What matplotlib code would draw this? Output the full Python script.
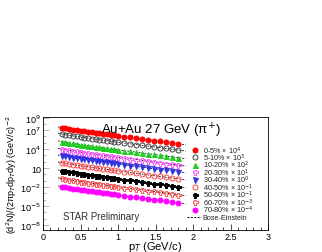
import numpy as np
import matplotlib
matplotlib.use("Agg")
import matplotlib.pyplot as plt
from matplotlib.ticker import FixedLocator, NullFormatter
from matplotlib.lines import Line2D

plt.rcParams['font.family'] = ['Liberation Sans', 'DejaVu Sans']

# pT bins (GeV/c)
pt = [0.25, 0.30, 0.35, 0.40, 0.45, 0.50, 0.55, 0.60, 0.65, 0.70, 0.75, 0.80, 0.85,
      0.90, 0.95, 1.00, 1.08, 1.16, 1.24, 1.32, 1.40, 1.48, 1.56, 1.64, 1.72, 1.80]

# log10 of scaled yields
y_0_5 = [7.40, 7.30, 7.20, 7.10, 7.01, 6.92, 6.83, 6.75, 6.66, 6.58, 6.50, 6.42, 6.34,
         6.26, 6.18, 6.10, 5.97, 5.85, 5.72, 5.60, 5.47, 5.35, 5.22, 5.10, 4.98, 4.85]
y_5_10 = [6.40, 6.30, 6.20, 6.10, 6.01, 5.92, 5.83, 5.75, 5.66, 5.58, 5.50, 5.42, 5.34,
          5.26, 5.18, 5.10, 4.97, 4.85, 4.72, 4.60, 4.47, 4.35, 4.22, 4.10, 3.98, 3.85]
y_10_20 = [5.20, 5.10, 5.00, 4.90, 4.81, 4.72, 4.63, 4.55, 4.46, 4.38, 4.30, 4.22, 4.14,
           4.06, 3.98, 3.90, 3.77, 3.65, 3.52, 3.40, 3.27, 3.15, 3.02, 2.90, 2.78, 2.65]
y_20_30 = [4.02, 3.92, 3.82, 3.72, 3.63, 3.54, 3.45, 3.37, 3.28, 3.20, 3.12, 3.04, 2.96,
           2.88, 2.80, 2.72, 2.59, 2.47, 2.34, 2.22, 2.09, 1.97, 1.84, 1.72, 1.60, 1.47]
y_30_40 = [2.95, 2.85, 2.75, 2.65, 2.56, 2.47, 2.38, 2.30, 2.21, 2.13, 2.05, 1.97, 1.89,
           1.81, 1.73, 1.65, 1.52, 1.40, 1.27, 1.15, 1.02, 0.90, 0.77, 0.65, 0.53, 0.40]
y_40_50 = [1.85, 1.75, 1.65, 1.55, 1.46, 1.37, 1.28, 1.20, 1.11, 1.03, 0.95, 0.87, 0.79,
           0.71, 0.63, 0.55, 0.42, 0.30, 0.17, 0.05, -0.08, -0.20, -0.33, -0.45, -0.57, -0.70]
y_50_60 = [0.60, 0.50, 0.40, 0.30, 0.21, 0.12, 0.03, -0.05, -0.14, -0.22, -0.30, -0.38, -0.46,
           -0.54, -0.62, -0.70, -0.83, -0.95, -1.08, -1.20, -1.33, -1.45, -1.58, -1.70, -1.82, -1.95]
y_60_70 = [-0.65, -0.75, -0.85, -0.95, -1.04, -1.13, -1.22, -1.30, -1.39, -1.47, -1.55, -1.63, -1.71,
           -1.79, -1.87, -1.95, -2.08, -2.20, -2.33, -2.45, -2.58, -2.70, -2.83, -2.95, -3.07, -3.20]
y_70_80 = [-1.95, -2.05, -2.15, -2.25, -2.34, -2.43, -2.52, -2.60, -2.69, -2.77, -2.85, -2.93, -3.01,
           -3.09, -3.17, -3.25, -3.38, -3.50, -3.63, -3.75, -3.88, -4.00, -4.13, -4.25, -4.37, -4.50]

# Bose-Einstein fit curves extend a bit beyond the data
fit_pt_lo, fit_pt_hi = 0.2, 1.9
fit_lo = [7.51, 6.51, 5.31, 4.13, 3.06, 1.96, 0.71, -0.54, -1.84]
fit_hi = [4.70, 3.70, 2.50, 1.32, 0.25, -0.85, -2.10, -3.35, -4.65]

labels = ["0-5% \u00d7 10$^{4}$", "5-10% \u00d7 10$^{3}$", "10-20% \u00d7 10$^{2}$",
          "20-30% \u00d7 10$^{1}$", "30-40% \u00d7 10$^{0}$", "40-50% \u00d7 10$^{-1}$",
          "50-60% \u00d7 10$^{-1}$", "60-70% \u00d7 10$^{-3}$", "70-80% \u00d7 10$^{-4}$"]

series = [y_0_5, y_5_10, y_10_20, y_20_30, y_30_40, y_40_50, y_50_60, y_60_70, y_70_80]
styles = [("o", "#ff0000", True), ("o", "#444444", False), ("^", "#22cc22", True),
          ("P", "#ff55ff", False), ("v", "#3333dd", True), ("o", "#ff4444", False),
          ("P", "#000000", True), ("P", "#ff5555", False), ("o", "#ff00ff", True)]

fig = plt.figure(figsize=(3.22, 2.53), dpi=100)
ax = fig.add_axes([0.1335, 0.087, 0.699, 0.447])

for ys, (m, c, filled), lo, hi in zip(series, styles, fit_lo, fit_hi):
    xs_fit = [fit_pt_lo] + pt + [fit_pt_hi]
    ys_fit = [lo] + ys + [hi]
    ax.plot(xs_fit, np.power(10.0, ys_fit), ls=(0, (2, 1.5)), color="black", lw=0.6, zorder=1)
    ax.plot(pt, np.power(10.0, ys), ls="none", marker=m, ms=3.6,
            mfc=c if filled else "none", mec=c, mew=0.7, zorder=2)

ax.set_yscale("log")
ax.set_xlim(0, 3)
ax.set_ylim(10 ** -8.8, 10 ** 9.1)

ax.set_xticks([0, 0.5, 1, 1.5, 2, 2.5, 3])
ax.set_xticklabels(["0", "0.5", "1", "1.5", "2", "2.5", "3"])
ax.set_xticks(np.arange(0, 3.01, 0.1), minor=True)
ytick_pos = [1e-8, 1e-5, 1e-2, 1e1, 1e4, 1e7, 1e9]
ax.yaxis.set_major_locator(FixedLocator(ytick_pos))
ax.set_yticklabels(["10$^{-8}$", "10$^{-5}$", "10$^{-2}$", "10", "10$^{4}$", "10$^{7}$", "10$^{9}$"])
ax.yaxis.set_minor_locator(FixedLocator([10.0 ** k for k in range(-8, 10)]))
ax.yaxis.set_minor_formatter(NullFormatter())
ax.tick_params(which="both", direction="in", labelsize=6.5, top=False, right=False, width=0.5)
ax.tick_params(which="major", length=4)
ax.tick_params(which="minor", length=2)
ax.tick_params(axis="y", which="both", colors="#999999", labelcolor="black")
ax.tick_params(axis="x", pad=1.2)
ax.tick_params(axis="y", pad=1.5)
for sp in ax.spines.values():
    sp.set_linewidth(0.6)

ax.set_xlabel("p$_{T}$ (GeV/c)", fontsize=8, va="baseline")
ax.xaxis.set_label_coords(0.50, -0.165)
ax.set_ylabel("(d$^{2}$N)/(2\u03c0p$_{T}$dp$_{T}$dy) (GeV/c)$^{-2}$", fontsize=6.5, labelpad=1)

ax.text(0.525, 0.97, "Au+Au 27 GeV (\u03c0$^{+}$)", transform=ax.transAxes,
        fontsize=9.5, ha="center", va="top")
ax.text(0.09, 0.12, "STAR Preliminary", transform=ax.transAxes, fontsize=7,
        ha="left", va="center", color="#333333")

# legend, laid out row by row like the ROOT TLegend
leg_x_mark, leg_x_text = 0.676, 0.71
leg_y0, leg_dy = 0.708, 0.066
for i, ((m, c, filled), lab) in enumerate(zip(styles, labels)):
    yy = leg_y0 - i * leg_dy
    ax.add_line(Line2D([leg_x_mark], [yy], transform=ax.transAxes, ls="none", marker=m,
                       ms=3.6, mfc=c if filled else "none", mec=c, mew=0.7))
    ax.text(leg_x_text, yy, lab, transform=ax.transAxes, fontsize=5.2, ha="left",
            va="center", color="#222222")
yy = leg_y0 - len(labels) * leg_dy
ax.add_line(Line2D([0.64, 0.70], [yy, yy], transform=ax.transAxes, ls=(0, (2, 1.5)),
                   color="black", lw=0.7))
ax.text(leg_x_text, yy, "Bose-Einstein", transform=ax.transAxes, fontsize=5.2,
        ha="left", va="center", color="#222222")

fig.savefig("out.png", dpi=100)
